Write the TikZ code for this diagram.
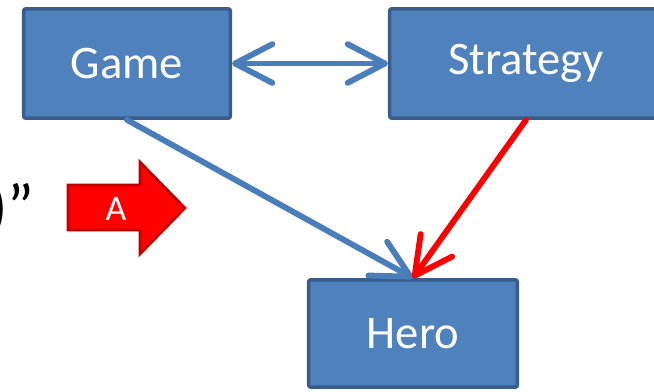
\documentclass[tikz,border=0pt]{standalone}
\usepackage{fontspec}
\setmainfont{Carlito}
\usetikzlibrary{arrows.meta}
\definecolor{boxblue}{HTML}{4F81BD}
\definecolor{boxline}{HTML}{385D8A}
\definecolor{linkblue}{HTML}{4A7EBB}
\definecolor{darkred}{HTML}{C00000}

\begin{document}
\begin{tikzpicture}[x=0.75pt,y=-0.75pt,
  box/.style={draw=boxline, line width=2.6pt, fill=boxblue, rounded corners=1.5pt,
    text=white, font=\fontsize{35}{40}\selectfont, minimum height=82pt},
  link/.style={line width=4.4pt, line cap=round, line join=round},
  >={Straight Barb[length=28pt,width=29pt,round]}]
\useasboundingbox (0,0) rectangle (654,392);
\clip (0,0) rectangle (654,392);

\node[box, minimum width=155pt] (game) at (127,63.5) {Game};
\node[box, minimum width=204.5pt] (strategy) at (526,63.5) {Strategy};
\node[box, minimum width=156.5pt, minimum height=80.5pt] (hero) at (413,333.5) {Hero};

% cut-off text at the left edge
\node[anchor=base east, inner sep=0pt, font=\fontsize{48}{56}\selectfont] (tail) at (35,229) {)”};

% block arrow
\draw[draw=darkred, line width=2pt, fill=red, line join=miter]
  (68,185) -- (140,185) -- (140,162) -- (185,208) -- (140,254) -- (140,230) -- (68,230) -- cycle;
\node[text=white, font=\fontsize{27}{32}\selectfont, inner sep=0pt] (mark) at (116,209) {A};

\draw[link, linkblue, <->] (game) -- (strategy);
\draw[link, linkblue, ->] (game.south) -- (hero.north);
\draw[link, red, ->] (strategy.south) -- (hero.north);
\end{tikzpicture}
\end{document}
